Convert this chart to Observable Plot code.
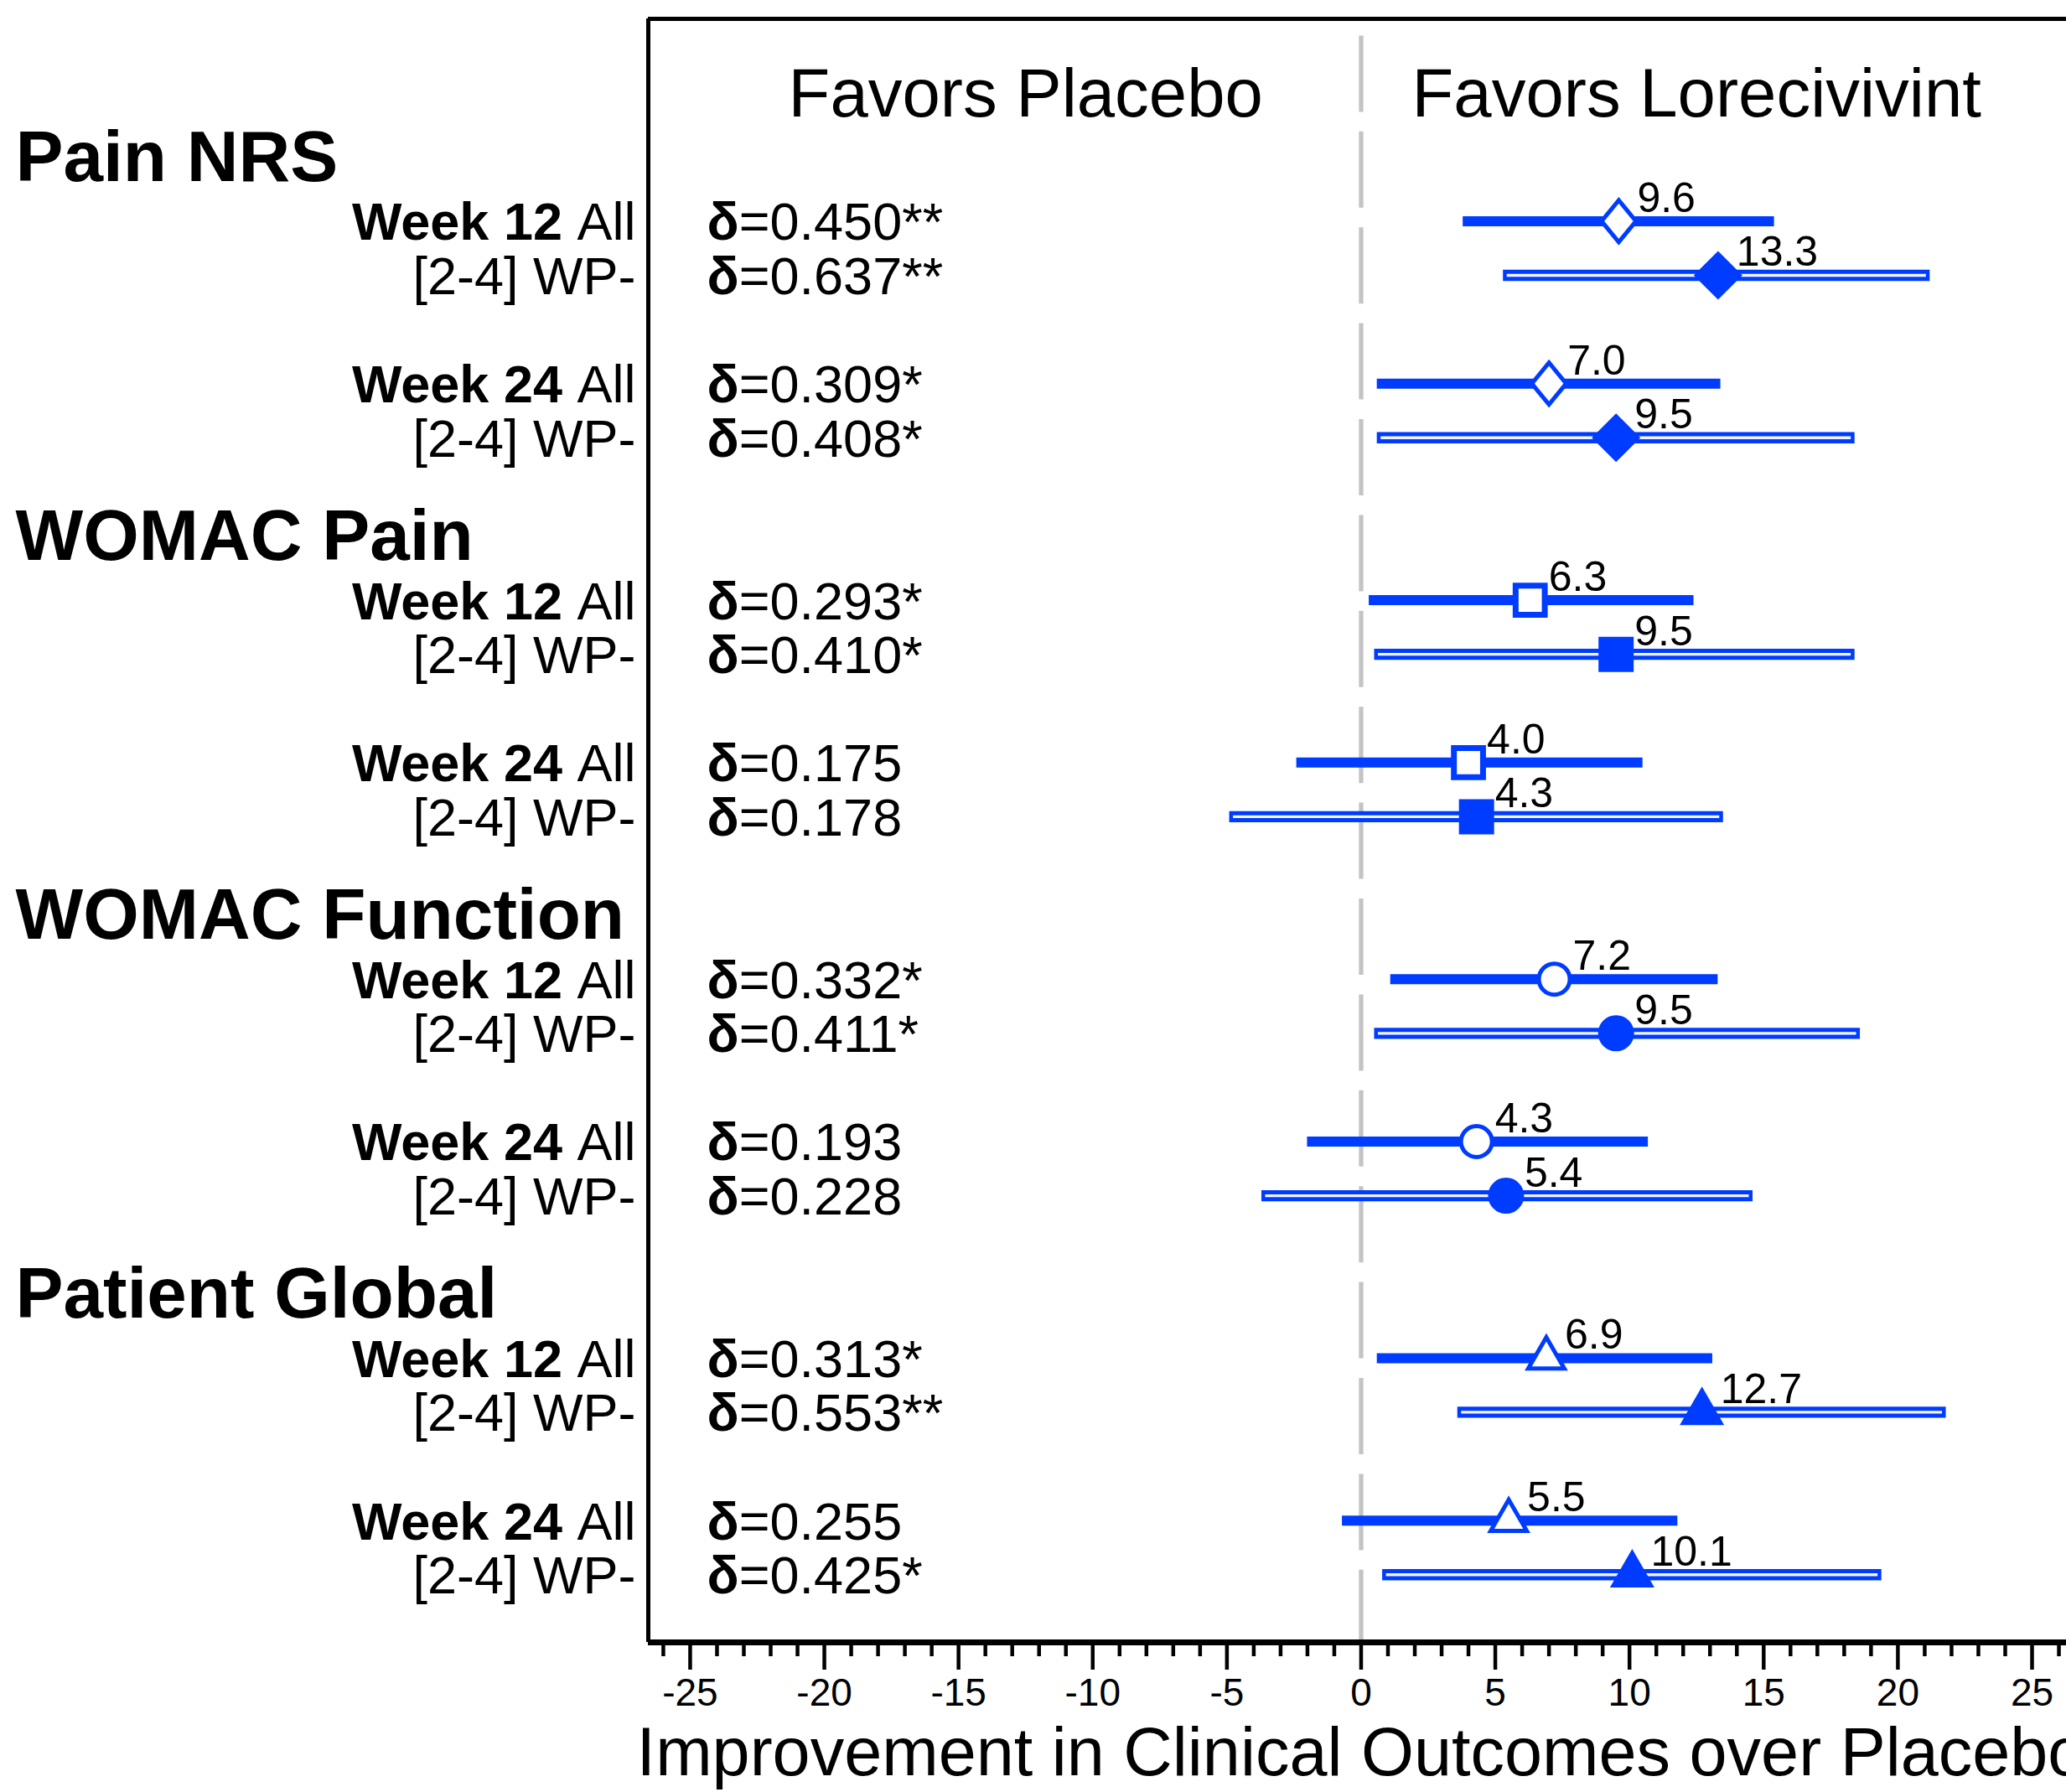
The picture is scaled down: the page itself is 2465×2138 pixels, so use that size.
<!DOCTYPE html>
<html>
<head>
<meta charset="utf-8">
<script src="https://cdn.jsdelivr.net/npm/d3@7"></script>
<script src="https://cdn.jsdelivr.net/npm/@observablehq/plot@0.6"></script>
<style>
  html, body { margin: 0; padding: 0; background: #ffffff; overflow: hidden; }
</style>
</head>
<body>
<div id="chart"></div>
<script>
// ---------------- data ----------------
const outcomes = ["Pain NRS", "WOMAC Pain", "WOMAC Function", "Patient Global"];
const weeks = ["Week 12", "Week 24"];
const subgroups = ["All", "[2-4] WP-"];
// order: outcome -> week -> subgroup
const estimates = [9.6, 13.3, 7.0, 9.5,  6.3, 9.5, 4.0, 4.3,  7.2, 9.5, 4.3, 5.4,  6.9, 12.7, 5.5, 10.1];
const ciLower   = [3.8, 5.3, 0.6, 0.6,   0.3, 0.5, -2.4, -4.9, 1.1, 0.5, -2.0, -3.7, 0.6, 3.6, -0.7, 0.8];
const ciUpper   = [15.4, 21.2, 13.4, 18.4, 12.4, 18.4, 10.5, 13.5, 13.3, 18.6, 10.7, 14.6, 13.1, 21.8, 11.8, 19.4];
const effectSizes = ["0.450**", "0.637**", "0.309*", "0.408*",
                     "0.293*", "0.410*", "0.175", "0.178",
                     "0.332*", "0.411*", "0.193", "0.228",
                     "0.313*", "0.553**", "0.255", "0.425*"];
const sideLabels = ["Favors Placebo", "Favors Lorecivivint"];
const sideCenters = [-12.5, 12.5];
const xTitle = "Improvement in Clinical Outcomes over Placebo";
const majorTicks = [-25, -20, -15, -10, -5, 0, 5, 10, 15, 20, 25];
const minorTicks = d3.range(-26, 27).filter(v => v % 5 !== 0);

// ---------------- layout helpers ----------------
const BLUE = "#003cff";
const X_DOMAIN = [-26.56, 26.28];
const Y_DOMAIN = [-3.737, 26.25];

const rows = [];
{
  let i = 0;
  outcomes.forEach((o, g) => weeks.forEach((w, k) => subgroups.forEach((s, j) => {
    rows.push({
      outcome: o, g, week: w, sub: s, wp: j === 1,
      pos: g * 7 + k * 3 + j,
      est: estimates[i], lo: ciLower[i], hi: ciUpper[i],
      es: effectSizes[i],
      label: j === 0 ? `${w} ${s}` : s
    });
    i++;
  })));
}

// custom diamond symbols (size -> r via size = PI r^2)
function diamond(aspect) {
  return {
    draw(ctx, size) {
      const r = Math.sqrt(size / Math.PI);
      const w = r * aspect;
      ctx.moveTo(0, -r);
      ctx.lineTo(w, 0);
      ctx.lineTo(0, r);
      ctx.lineTo(-w, 0);
      ctx.closePath();
    }
  };
}
const symbolStyles = [
  {open: {symbol: diamond(0.82), r: 25, sw: 5},  filled: {symbol: diamond(1), r: 25.5, sw: 5}},
  {open: {symbol: "square", r: 19.6, sw: 7},      filled: {symbol: "square", r: 20.3, sw: 6}},
  {open: {symbol: "circle", r: 18.5, sw: 5},      filled: {symbol: "circle", r: 19, sw: 5}},
  {open: {symbol: "triangle", r: 16, sw: 5},      filled: {symbol: "triangle", r: 16.5, sw: 5}}
];

const dotMarks = [];
outcomes.forEach((o, g) => {
  [false, true].forEach(wp => {
    const st = wp ? symbolStyles[g].filled : symbolStyles[g].open;
    dotMarks.push(Plot.dot(rows.filter(d => d.g === g && d.wp === wp), {
      x: "est", y: "pos", symbol: st.symbol, r: st.r,
      fill: wp ? BLUE : "white", stroke: BLUE, strokeWidth: st.sw
    }));
  });
});

const chart = Plot.plot({
  width: 2465,
  height: 2138,
  marginLeft: 773,
  marginRight: 0,
  marginTop: 22,
  marginBottom: 179,
  style: {fontFamily: "'Liberation Sans', Arial, Helvetica, sans-serif", background: "white", color: "black", fontSize: "46px"},
  x: {domain: X_DOMAIN},
  y: {domain: Y_DOMAIN, reverse: true, axis: null},
  marks: [
    // zero reference line
    Plot.ruleX([0], {stroke: "#c4c4c4", strokeWidth: 5.3, strokeDasharray: "91 23.4", insetTop: 20.4}),
    // frame: top and left
    Plot.ruleY([Y_DOMAIN[0]], {stroke: "black", strokeWidth: 5}),
    Plot.ruleX([X_DOMAIN[0]], {stroke: "black", strokeWidth: 5}),
    // axes: minor ticks (no labels) and major ticks
    Plot.axisX({ticks: minorTicks, tickSize: 17, tickFormat: () => "", fill: "none", label: null, strokeWidth: 4.5}),
    Plot.axisX({ticks: majorTicks, tickSize: 33, tickPadding: 10, fontSize: 46, tickFormat: d => String(d), label: null, strokeWidth: 4.5}),
    Plot.ruleY([Y_DOMAIN[1]], {stroke: "black", strokeWidth: 7}),
    // confidence bars: All (solid)
    Plot.ruleY(rows.filter(d => !d.wp), {x1: "lo", x2: "hi", y: "pos", stroke: BLUE, strokeWidth: 12}),
    // confidence bars: WP- (hollow)
    Plot.ruleY(rows.filter(d => d.wp), {x1: "lo", x2: "hi", y: "pos", stroke: BLUE, strokeWidth: 13.3}),
    Plot.ruleY(rows.filter(d => d.wp), {x1: "lo", x2: "hi", y: "pos", stroke: "#f4f6ff", strokeWidth: 3.3, insetLeft: 4.5, insetRight: 4.5}),
    // markers
    ...dotMarks,
    // value annotations
    Plot.text(rows, {x: "est", y: "pos", text: d => d.est.toFixed(1), dx: 22, dy: -11, lineAnchor: "bottom", textAnchor: "start", fontSize: 50, fill: "black"}),
    // side labels
    Plot.text(sideLabels, {x: sideCenters, text: d => d, frameAnchor: "top", dy: 116, lineAnchor: "bottom", fontSize: 81.5, fill: "black"}),
    // x title
    Plot.text([xTitle], {x: [0], text: d => d, frameAnchor: "bottom", dy: 158, lineAnchor: "bottom", fontSize: 81, fill: "black"}),
    // group headers
    Plot.text(outcomes, {y: (d, i) => i * 7, text: d => d, frameAnchor: "left", textAnchor: "start", dx: -755, dy: -48, lineAnchor: "bottom", fontSize: 85.5, fontWeight: "bold", fill: "black"}),
    // row labels
    Plot.text(rows, {y: "pos", text: "label", frameAnchor: "left", textAnchor: "end", dx: -15, dy: 22.5, lineAnchor: "bottom", fontSize: 63, fill: "black"}),
    // effect sizes
    Plot.text(rows, {y: "pos", text: d => "δ=" + d.es, frameAnchor: "left", textAnchor: "start", dx: 70, dy: 22.5, lineAnchor: "bottom", fontSize: 63, fill: "black"})
  ]
});

document.getElementById("chart").appendChild(chart);

// remove the empty label texts of the minor-tick axis
chart.querySelectorAll("text").forEach(t => {
  if (t.textContent.trim() === "") t.remove();
});

// bold parts of mixed-weight labels
const svgNS = "http://www.w3.org/2000/svg";
chart.querySelectorAll("text").forEach(t => {
  const s = t.textContent;
  let boldPart = null, rest = null;
  if (s.startsWith("δ=")) { boldPart = "δ"; rest = s.slice(1); }
  else if (s.startsWith("Week ")) { const k = s.lastIndexOf(" "); boldPart = s.slice(0, k + 1); rest = s.slice(k + 1); }
  if (boldPart !== null) {
    t.textContent = "";
    const a = document.createElementNS(svgNS, "tspan");
    a.setAttribute("font-weight", "bold");
    a.textContent = boldPart;
    const b = document.createElementNS(svgNS, "tspan");
    b.textContent = rest;
    t.appendChild(a);
    t.appendChild(b);
  }
});
</script>
</body>
</html>
